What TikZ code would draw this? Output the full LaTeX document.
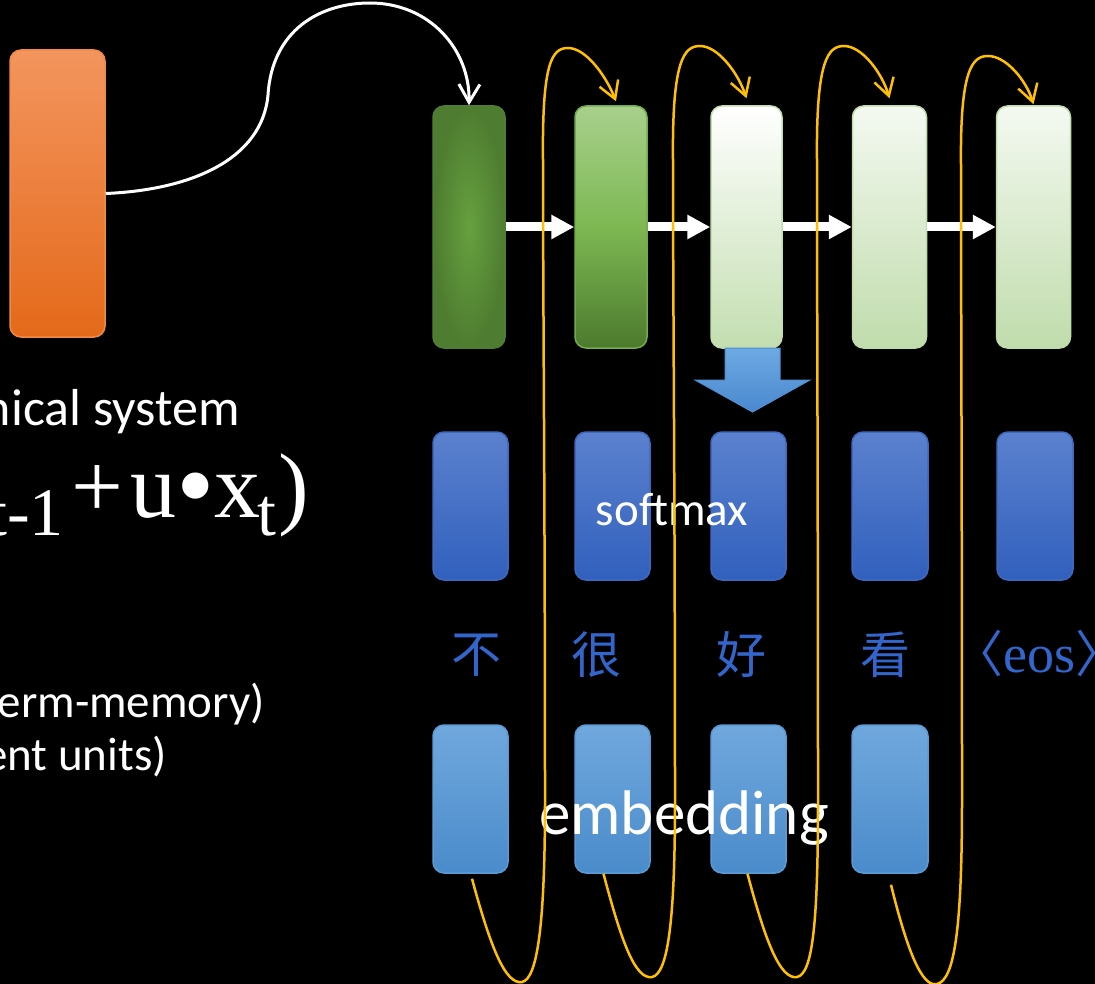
\documentclass[tikz,border=0pt]{standalone}
\usepackage{fontspec}
\setmainfont{Carlito}
\newfontfamily\cjk{Noto Sans CJK SC}
\newfontfamily\lserif{Liberation Serif}
\usetikzlibrary{arrows.meta}
\definecolor{orTop}{HTML}{F3955E}
\definecolor{orBot}{HTML}{E4691A}
\definecolor{orEdge}{HTML}{F08A44}
\definecolor{gAin}{HTML}{66A03F}
\definecolor{gAout}{HTML}{4E7C30}
\definecolor{gAedge}{HTML}{507F33}
\definecolor{gBtop}{HTML}{A8D08C}
\definecolor{gBmid}{HTML}{7DB853}
\definecolor{gBbot}{HTML}{4C7A2D}
\definecolor{gCbot}{HTML}{C3DEB0}
\definecolor{gDtop}{HTML}{F4F9F1}
\definecolor{gDbot}{HTML}{C0DCAC}
\definecolor{smTop}{HTML}{5B81CE}
\definecolor{smBot}{HTML}{3160BD}
\definecolor{smEdge}{HTML}{3F68BF}
\definecolor{emTop}{HTML}{70A8DD}
\definecolor{emBot}{HTML}{4A8BCB}
\definecolor{emEdge}{HTML}{5B9BD5}
\definecolor{daTop}{HTML}{6DA9E2}
\definecolor{daBot}{HTML}{4A89D0}
\definecolor{daEdge}{HTML}{4F8ED0}
\definecolor{yel}{HTML}{FFC000}
\definecolor{cjkblue}{HTML}{3366CC}
\begin{document}
\begin{tikzpicture}[x=1pt,y=-1pt,
  box/.style={rectangle, rounded corners=11pt, inner sep=0pt, line width=1.5pt},
  gbox/.style={box, minimum height=242pt},
  smbox/.style={box, minimum height=148pt, top color=smTop, bottom color=smBot, draw=smEdge},
  embox/.style={box, minimum height=148pt, top color=emTop, bottom color=emBot, draw=emEdge},
  wtext/.style={text=white, inner sep=0pt},
  fbig/.style={wtext, anchor=base, font=\lserif\fontsize{92}{92}\selectfont},
  fsub/.style={wtext, font=\lserif\fontsize{68}{68}\selectfont},
  ycurve/.style={draw=yel, line width=2.5pt, -{Straight Barb[length=17pt,width=20pt]}},
  wcurve/.style={draw=white, line width=3pt, -{Straight Barb[length=18pt,width=21pt]}},
  harrow/.style={draw=white, line width=9pt, -{Triangle[length=23pt,width=23pt]}},
  cjktext/.style={text=cjkblue, inner sep=0pt, font=\cjk\fontsize{50}{50}\selectfont}
]
\useasboundingbox (0,0) rectangle (1095,984);
\fill[black] (0,0) rectangle (1095,984);
\clip (0,0) rectangle (1095,984);

% left RNN box
\node[box, minimum width=95pt, minimum height=287pt, top color=orTop, bottom color=orBot, draw=orEdge] (rnn) at (57.5,193.5) {};

% left texts
\node[wtext, anchor=base east, font=\fontsize{52}{52}\selectfont] (t1) at (240,425) {nical system};
\node[fsub, anchor=base east] (f1) at (64,535) {t-1};
\node[fbig] (f2) at (97.5,517) {+};
\node[fbig] (f3) at (153,517) {u};
\node[fbig, font=\lserif\fontsize{110}{110}\selectfont] (f4) at (195.5,522) {•};
\node[fbig] (f5) at (237,517) {x};
\node[fsub, anchor=base west] (f6) at (257,535) {t};
\node[fbig, anchor=base west] (f7) at (278,517) {)};
\node[wtext, anchor=base east, font=\fontsize{47}{47}\selectfont] (t2) at (265,717) {erm-memory)};
\node[wtext, anchor=base east, font=\fontsize{47}{47}\selectfont] (t3) at (167,770) {ent units)};

% green decoder row
\node[gbox, minimum width=72pt, inner color=gAin, outer color=gAout, draw=gAedge] (g1) at (469,227) {};
\node[gbox, minimum width=72pt, top color=gBtop, bottom color=gBbot, middle color=gBmid, draw=gBmid!80!gBbot] (g2) at (611,227) {};
\node[gbox, minimum width=71pt, top color=white, bottom color=gCbot, draw=gCbot] (g3) at (746.5,227) {};
\node[gbox, minimum width=74pt, top color=gDtop, bottom color=gDbot, draw=gDbot] (g4) at (889.5,227) {};
\node[gbox, minimum width=74pt, top color=gDtop, bottom color=gDbot, draw=gDbot] (g5) at (1033.5,227) {};

% softmax row
\node[smbox, minimum width=75pt] (s1) at (470.5,506) {};
\node[smbox, minimum width=75pt] (s2) at (612.5,506) {};
\node[smbox, minimum width=75pt] (s3) at (748.5,506) {};
\node[smbox, minimum width=76pt] (s4) at (890,506) {};
\node[smbox, minimum width=76pt] (s5) at (1035,506) {};

% embedding row
\node[embox, minimum width=75pt] (e1) at (470.5,799) {};
\node[embox, minimum width=75pt] (e2) at (612.5,799) {};
\node[embox, minimum width=75pt] (e3) at (748.5,799) {};
\node[embox, minimum width=76pt] (e4) at (890,799) {};

% labels
\node[wtext, anchor=base, font=\fontsize{47}{47}\selectfont] (sm) at (672,525) {softmax};
\node[wtext, anchor=base, font=\fontsize{63}{63}\selectfont] (emb) at (684,834) {embedding};

% words
\node[cjktext] (w1) at (476,655) {不};
\node[cjktext] (w2) at (596,655) {很};
\node[cjktext] (w3) at (741,655) {好};
\node[cjktext] (w4) at (885,655) {看};
\node[cjktext, anchor=base west] (w5) at (953,672) {〈{\lserif\fontsize{54}{54}\selectfont eos}〉};

% block arrow from g3 to s3
\path[top color=daTop, bottom color=daBot, draw=daEdge, line width=1pt]
  (725,348) -- (780,348) -- (780,380) -- (810,380) -- (752.5,412) -- (695,380) -- (725,380) -- cycle;

% horizontal arrows
\draw[harrow] (g1.east) -- (g2.west);
\draw[harrow] (g2.east) -- (g3.west);
\draw[harrow] (g3.east) -- (g4.west);
\draw[harrow] (g4.east) -- (g5.west);

% white curve
\draw[wcurve] (rnn.east) .. controls (190,190) and (262,160) .. (268,95)
  .. controls (272,30) and (320,3) .. (370,3)
  .. controls (430,3) and (470,50) .. (g1.north);

% yellow curves
\draw[ycurve] ([xshift=1.5pt,yshift=-5pt]e1.south) .. controls (490,945) and (505,985) .. (522,982)
  .. controls (538,979) and (545,920) .. (545,800)
  .. controls (545,500) and (543,300) .. (543,160)
  .. controls (542,62) and (552,48) .. (568,48)
  .. controls (586,48) and (606,76) .. ([xshift=5pt,yshift=4pt]g2.north);
\draw[ycurve] ([xshift=-9pt]e2.south) .. controls (621,940) and (635,980) .. (652,977)
  .. controls (668,974) and (675,920) .. (675,800)
  .. controls (675,500) and (673,300) .. (673,160)
  .. controls (672,60) and (684,46) .. (700,46)
  .. controls (718,46) and (738,73) .. ([yshift=7pt]g3.north);
\draw[ycurve] ([xshift=-1pt]e3.south) .. controls (765,940) and (780,980) .. (797,977)
  .. controls (813,974) and (818,920) .. (818,800)
  .. controls (818,500) and (817,300) .. (817,160)
  .. controls (816,60) and (828,46) .. (844,46)
  .. controls (862,46) and (882,73) .. ([yshift=7pt]g4.north);
\draw[ycurve] ([xshift=1pt,yshift=-11pt]e4.south) .. controls (907,950) and (922,988) .. (937,984)
  .. controls (955,980) and (962,925) .. (962,800)
  .. controls (962,500) and (961,300) .. (961,165)
  .. controls (960,70) and (972,56) .. (988,56)
  .. controls (1006,56) and (1026,80) .. ([yshift=1pt]g5.north);
\end{tikzpicture}
\end{document}
